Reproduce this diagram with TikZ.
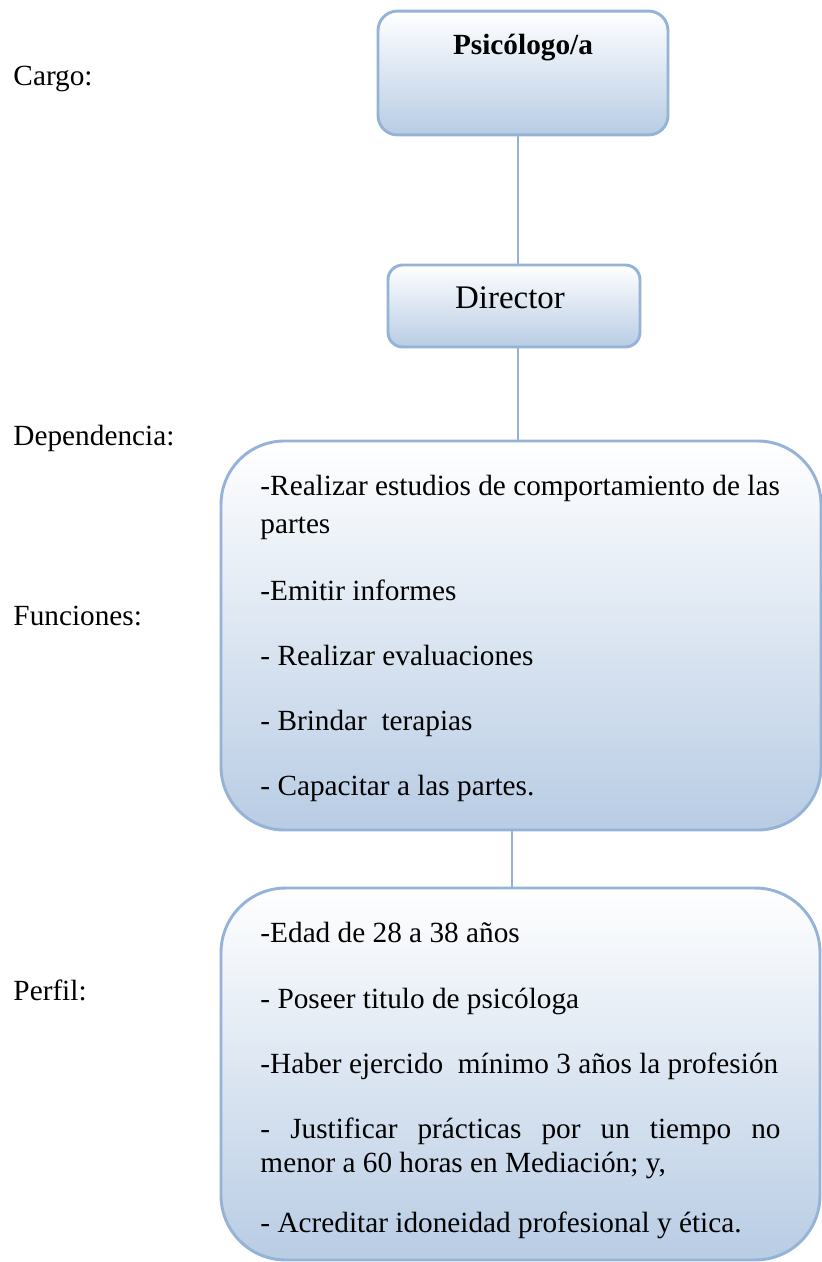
\documentclass[tikz,border=0pt]{standalone}
\usepackage{fontspec}
\setmainfont{Liberation Serif}

\definecolor{cajaborde}{HTML}{95B3D7}
\definecolor{cajafondo}{HTML}{B8CCE4}

\tikzset{
  caja/.style={draw=cajaborde, line width=1.2pt, top color=white, middle color=cajafondo!40!white, bottom color=cajafondo, inner sep=0pt},
  linea/.style={draw=cajaborde, line width=0.9pt},
  texto/.style={anchor=base west, inner sep=0pt, font=\fontsize{12}{14}\selectfont},
}

\begin{document}
\begin{tikzpicture}[x=0.41pt,y=-0.41pt]
            \useasboundingbox (0,0) rectangle (822,1262);

            \node[caja, rounded corners=8pt, minimum width=118.9pt, minimum height=50.8pt] (cargo) at (523,73) {};
            \node[caja, rounded corners=6pt, minimum width=103.3pt, minimum height=33.6pt] (director) at (514,306) {};
            \node[caja, rounded corners=26pt, minimum width=246pt, minimum height=159.5pt] (funciones) at (521,635.5) {};
            \node[caja, rounded corners=26.5pt, minimum width=245.6pt, minimum height=152.5pt] (perfil) at (520.5,1074) {};

            \coordinate (ejeA) at (518,0);
            \coordinate (ejeB) at (512,0);
            \draw[linea] (cargo.south -| ejeA) -- (director.north -| ejeA);
            \draw[linea] (director.south -| ejeA) -- (funciones.north -| ejeA);
            \draw[linea] (funciones.south -| ejeB) -- (perfil.north -| ejeB);

            \node[anchor=base, inner sep=0pt, font=\fontsize{12}{14}\selectfont\bfseries] (tcargo) at (523,55) {Psicólogo/a};
            \node[anchor=base, inner sep=0pt, font=\fontsize{13.5}{16}\selectfont] (tdirector) at (510,308) {Director};

            \node[texto] (lcargo) at (13,86) {Cargo:};
            \node[texto] (ldependencia) at (13,445) {Dependencia:};
            \node[texto] (lfunciones) at (13,625) {Funciones:};
            \node[texto] (lperfil) at (13,1000) {Perfil:};

            \node[texto] (f1) at (260,495) {-Realizar estudios de comportamiento de las};
            \node[texto] (f1b) at (260,533) {partes};
            \node[texto] (f2) at (260,600) {-Emitir informes};
            \node[texto] (f3) at (260,665) {- Realizar evaluaciones};
            \node[texto] (f4) at (260,730) {- Brindar\ \ terapias};
            \node[texto] (f5) at (260,795) {- Capacitar a las partes.};

            \node[texto] (p1) at (260,942) {-Edad de 28 a 38 años};
            \node[texto] (p2) at (260,1008) {- Poseer titulo de psicóloga};
            \node[texto] (p3) at (260,1073) {-Haber ejercido\ \ mínimo 3 años la profesión};
            \node[texto] (p4) at (260,1138) {\makebox[213.2pt][s]{- Justificar prácticas por un tiempo no}};
            \node[texto] (p4b) at (260,1172) {menor a 60 horas en Mediación; y,};
            \node[texto] (p5) at (260,1232) {- Acreditar idoneidad profesional y ética.};
        \end{tikzpicture}
\end{document}
